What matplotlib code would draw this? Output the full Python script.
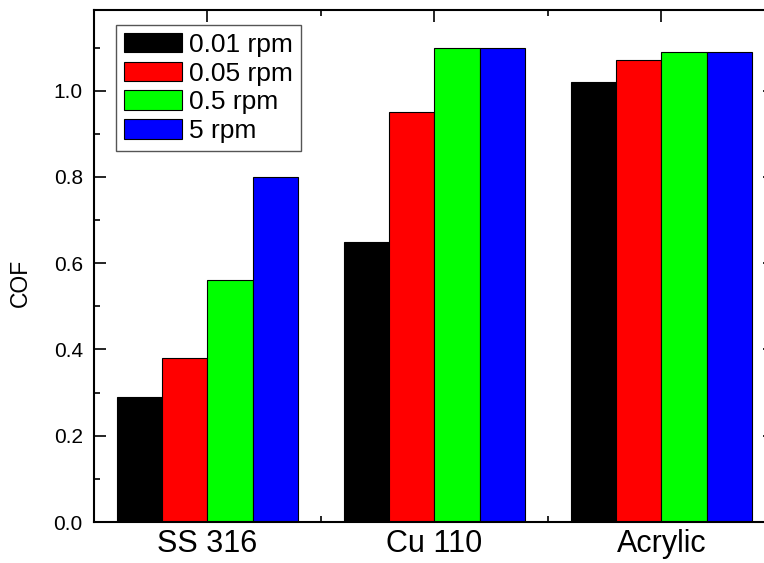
import matplotlib.pyplot as plt
import numpy as np
from matplotlib.ticker import MultipleLocator, FixedLocator

plt.rcParams['font.family'] = ['Liberation Sans', 'DejaVu Sans']

materials = ['SS 316', 'Cu 110', 'Acrylic']
speeds    = ['0.01 rpm', '0.05 rpm', '0.5 rpm', '5 rpm']
cof_001 = [0.29, 0.65, 1.02]
cof_005 = [0.38, 0.95, 1.07]
cof_05  = [0.56, 1.10, 1.09]
cof_5   = [0.80, 1.10, 1.09]
colors = ['#000000', '#FF0000', '#00FF00', '#0000FF']

fig = plt.figure(figsize=(7.64, 5.63), dpi=100)
ax = fig.add_axes([0.123, 0.0728, 0.8914, 0.9094])

x = np.arange(1, len(materials) + 1)
w = 0.2
for i, (vals, lab) in enumerate(zip([cof_001, cof_005, cof_05, cof_5], speeds)):
    ax.bar(x + (i - 1.5) * w, vals, width=w, color=colors[i], edgecolor='black',
           linewidth=0.8, label=lab)

ax.set_xlim(0.5, 3.5)
ax.set_ylim(0, 1.187)
ax.set_xticks(x)
ax.set_xticklabels(materials, fontsize=22)
ax.xaxis.set_minor_locator(FixedLocator([1.5, 2.5]))
ax.yaxis.set_major_locator(MultipleLocator(0.2))
ax.yaxis.set_minor_locator(MultipleLocator(0.1))
ax.yaxis.set_major_formatter(plt.FormatStrFormatter('%.1f'))
ax.tick_params(which='both', direction='in', top=True, right=True, width=1.2)
ax.tick_params(which='major', length=8.5)
ax.tick_params(which='minor', length=4)
ax.tick_params(axis='y', labelsize=15, pad=8)
ax.tick_params(axis='x', pad=5)
ax.set_axisbelow(True)
for s in ax.spines.values():
    s.set_linewidth(1.5)
ax.spines['right'].set_visible(False)

ax.set_ylabel('COF', fontsize=16.5)
ax.yaxis.set_label_coords(-0.091, 0.467)

leg = ax.legend(loc='upper left', bbox_to_anchor=(0.0323, 0.971), borderaxespad=0,
                fontsize=19, fancybox=False, edgecolor='#555555', framealpha=1,
                handlelength=2.2, handleheight=0.76, handletextpad=0.28,
                labelspacing=0.18, borderpad=0.3)
leg.get_frame().set_linewidth(1.0)

plt.savefig('out.png', dpi=100)
